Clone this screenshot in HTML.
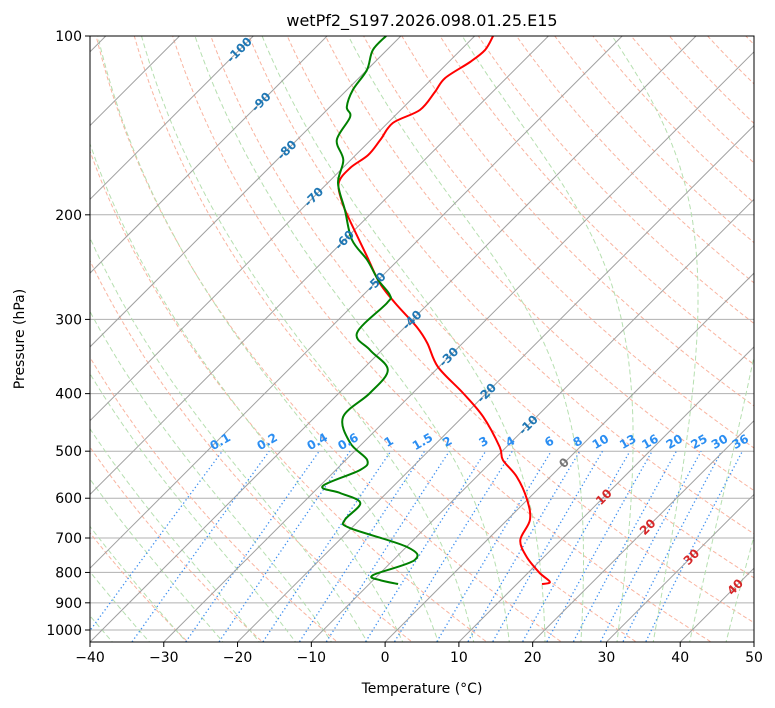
<!DOCTYPE html>
<html><head><meta charset="utf-8"><style>
body{margin:0;background:#fff;}
svg{display:block;font-family:"DejaVu Sans","Liberation Sans",sans-serif;}
</style></head><body>
<svg id="chart" width="775" height="708" viewBox="0 0 775 708">
<defs><clipPath id="clip"><rect x="90" y="36" width="664" height="606"/></clipPath></defs>
<text x="422" y="26" text-anchor="middle" font-size="16">wetPf2_S197.2026.098.01.25.E15</text>
<g id="bg" clip-path="url(#clip)"></g>
<g id="prof" clip-path="url(#clip)"></g>
<g id="labels"></g>
<rect x="90" y="36" width="664" height="606" fill="none" stroke="#000" stroke-width="1"/>
<g id="axes"></g>
<text x="422" y="693" text-anchor="middle" font-size="14">Temperature (°C)</text>
<text transform="translate(24,339) rotate(-90)" text-anchor="middle" font-size="14">Pressure (hPa)</text>
</svg>
<script>
const tempP = [100,105.6,110.6,117.7,124.3,133.2,140.1,149.6,158.6,166.8,176.8,191,204.1,235.5,260.5,281.5,309,328.8,360.8,399,437.8,491.9,517.4,552.6,604,653,705.6,753.8,801.7,830,836.7];
const tempT = [-67.5,-66.7,-67.1,-68.3,-67.8,-67.4,-69.3,-68.7,-68.3,-69.0,-68.5,-65.3,-62.0,-54.6,-49.4,-44.6,-38.4,-34.8,-30.1,-23.2,-17.2,-10.9,-8.7,-4.5,0.0,3.1,4.5,7.7,11.6,14.2,13.4];
const dewP = [100,105.6,114.1,123.3,131.7,136.9,149.6,161.7,176.8,196.3,220.4,238.3,257.5,272.9,281.5,316.2,337.9,365,399,437.8,484.4,517.4,537.8,572.4,588,611.2,653,673.6,724.8,762.6,808,824,836.7];
const dewT = [-82.0,-81.9,-80.0,-79.2,-77.7,-75.9,-74.6,-71.0,-68.6,-64.0,-59.0,-54.2,-50.0,-46.4,-45.7,-45.7,-41.6,-36.5,-35.8,-36.2,-31.7,-27.1,-26.7,-29.6,-26.3,-22.2,-22.0,-20.2,-9.9,-7.1,-10.7,-9.1,-6.1];
const xTicks = [-40,-30,-20,-10,0,10,20,30,40,50];
const pTicks = [1000,900,800,700,600,500,400,300,200,100];
const isoLabelT = [-100,-90,-80,-70,-60,-50,-40,-30,-20,-10,0,10,20,30,40];
const isoLabelY = [50,102,150,197,240,282,320,357,393,425,463,497,527,557,587];
const mixW = [0.1,0.2,0.4,0.6,1,1.5,2,3,4,6,8,10,13,16,20,25,30,36];

const NS="http://www.w3.org/2000/svg";
const X0=90,X1=754,Y0=36,YB=642,PXC=664/90;
function yP(p){return 36+594*Math.log10(p/100);}
function xT(T,p){return X0+(T+40)*PXC+(YB-yP(p));}
function pFromY(y){return 100*Math.pow(10,(y-36)/594);}
function mk(tag,attrs,parent){const e=document.createElementNS(NS,tag);for(const k in attrs)e.setAttribute(k,attrs[k]);parent.appendChild(e);return e;}
const bg=document.getElementById('bg'),prof=document.getElementById('prof'),lab=document.getElementById('labels'),ax=document.getElementById('axes');
function pathFrom(pts){return pts.map((q,i)=>(i?'L':'M')+q[0].toFixed(1)+','+q[1].toFixed(1)).join('');}
function smoothPath(pts){let d='M'+pts[0][0].toFixed(1)+','+pts[0][1].toFixed(1);
for(let i=0;i<pts.length-1;i++){const p0=pts[i-1]||pts[i],p1=pts[i],p2=pts[i+1],p3=pts[i+2]||p2;
const c1=[p1[0]+(p2[0]-p0[0])/6,p1[1]+(p2[1]-p0[1])/6],c2=[p2[0]-(p3[0]-p1[0])/6,p2[1]-(p3[1]-p1[1])/6];
d+='C'+c1[0].toFixed(1)+','+c1[1].toFixed(1)+' '+c2[0].toFixed(1)+','+c2[1].toFixed(1)+' '+p2[0].toFixed(1)+','+p2[1].toFixed(1);}
return d;}
const pLevels=[];for(let p=1060;p>=95;p-=5)pLevels.push(p);

pTicks.forEach(p=>{const l=mk('line',{x1:X0,x2:X1,y1:yP(p),y2:yP(p),stroke:'#b0b0b0','stroke-width':1},bg);

});
for(let t0=-30;t0<=200;t0+=10){const pts=pLevels.map(p=>[xT((t0+273.15)*Math.pow(p/1000,0.2857)-273.15,p),yP(p)]);
const e=mk('path',{d:pathFrom(pts),fill:'none',stroke:'#f9b4a0','stroke-width':1,'stroke-dasharray':'4,2.5'},bg);

}
function es(T){return 6.112*Math.exp(17.67*T/(T+243.5));}
function moistLapse(Tc,p){const T=Tc+273.15,Rd=287.04,Cp=1005.7,Lv=2.501e6,eps=0.622;const rs=eps*es(Tc)/(p-es(Tc));
return (Rd*T+Lv*rs)/(Cp+Lv*Lv*rs*eps/(Rd*T*T))/p;}
function moistLine(t0){const up=[],dn=[];let T=t0,p=1000;up.push([T,p]);
while(p>100){const d=-2;T+=moistLapse(T,p)*d;p+=d;up.push([T,p]);}
T=t0;p=1000;while(p<1060){const d=2;T+=moistLapse(T,p)*d;p+=d;dn.push([T,p]);}
return dn.reverse().concat(up);}
for(let t0=-40;t0<=50;t0+=5){const pts=moistLine(t0).map(q=>[xT(q[0],q[1]),yP(q[1])]);
const e=mk('path',{d:pathFrom(pts),fill:'none',stroke:'#b6dfb0','stroke-width':1,'stroke-dasharray':'5,3'},bg);

}
function tdW(w,p){const e=p*w/(622+w);const l=Math.log(e/6.112);return 243.5*l/(17.67-l);}
mixW.forEach(w=>{const pts=[];for(let p=1060;p>=500;p-=10)pts.push([xT(tdW(w,p),p),yP(p)]);
const e=mk('path',{d:pathFrom(pts),fill:'none',stroke:'#3d8ff0','stroke-width':1.3,'stroke-dasharray':'1.3,2.6'},bg);


const lx=xT(tdW(w,500),500),ly=yP(500)-6;
const t=mk('text',{x:lx,y:ly,'text-anchor':'middle','font-size':12,'font-weight':'bold',fill:'#2b8ef2',transform:`rotate(-30 ${lx} ${ly})`},lab);
t.textContent=String(w);

});
for(let T=-150;T<=50;T+=10){const e=mk('line',{x1:xT(T,1060),y1:yP(1060),x2:xT(T,95),y2:yP(95),stroke:'#a0a0a0','stroke-width':1},bg);

}
isoLabelT.forEach((T,i)=>{const y=isoLabelY[i],x=xT(T,pFromY(y));
const c=T<0?'#1f77b4':(T===0?'#777':'#d62728');
const t=mk('text',{x:x,y:y+4,'text-anchor':'middle','font-size':12,'font-weight':'bold',fill:c,transform:`rotate(-45 ${x} ${y})`},lab);
t.textContent=String(T);

});
const tp=mk('path',{d:smoothPath(tempP.map((p,i)=>[xT(tempT[i],p),yP(p)])),fill:'none',stroke:'#ff0000','stroke-width':2,'stroke-linejoin':'round'},prof);


const dp=mk('path',{d:smoothPath(dewP.map((p,i)=>[xT(dewT[i],p),yP(p)])),fill:'none',stroke:'#008000','stroke-width':2,'stroke-linejoin':'round'},prof);


xTicks.forEach(T=>{const x=X0+(T+40)*PXC;
const l=mk('line',{x1:x,x2:x,y1:YB,y2:YB+5,stroke:'#000'},ax);


const t=mk('text',{x:x,y:YB+20,'text-anchor':'middle','font-size':14},ax);t.textContent=String(T).replace('-','−');

});
pTicks.forEach(p=>{const y=yP(p);
const l=mk('line',{x1:X0-5,x2:X0,y1:y,y2:y,stroke:'#000'},ax);


const t=mk('text',{x:X0-8,y:y+5,'text-anchor':'end','font-size':14},ax);t.textContent=String(p);

});
</script>
</body></html>
